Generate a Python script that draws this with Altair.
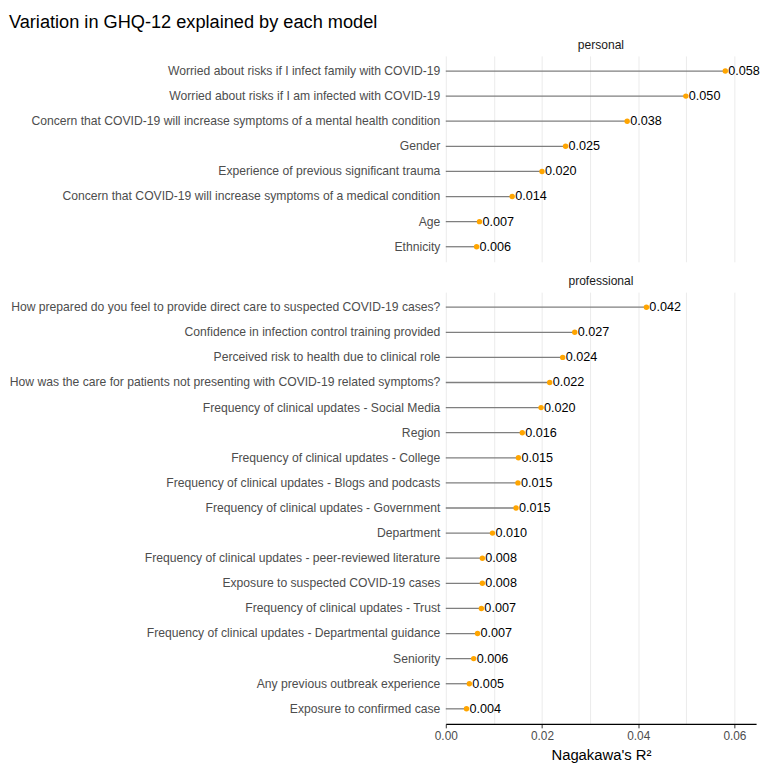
import altair as alt
import pandas as pd

personal_items = [
    "Worried about risks if I infect family with COVID-19",
    "Worried about risks if I am infected with COVID-19",
    "Concern that COVID-19 will increase symptoms of a mental health condition",
    "Gender",
    "Experience of previous significant trauma",
    "Concern that COVID-19 will increase symptoms of a medical condition",
    "Age",
    "Ethnicity",
]
personal_values = [0.0581, 0.0499, 0.0377, 0.0249, 0.0200, 0.0138, 0.0070, 0.0064]

professional_items = [
    "How prepared do you feel to provide direct care to suspected COVID-19 cases?",
    "Confidence in infection control training provided",
    "Perceived risk to health due to clinical role",
    "How was the care for patients not presenting with COVID-19 related symptoms?",
    "Frequency of clinical updates - Social Media",
    "Region",
    "Frequency of clinical updates - College",
    "Frequency of clinical updates - Blogs and podcasts",
    "Frequency of clinical updates - Government",
    "Department",
    "Frequency of clinical updates - peer-reviewed literature",
    "Exposure to suspected COVID-19 cases",
    "Frequency of clinical updates - Trust",
    "Frequency of clinical updates - Departmental guidance",
    "Seniority",
    "Any previous outbreak experience",
    "Exposure to confirmed case",
]
professional_values = [0.0417, 0.0268, 0.0243, 0.0216, 0.0198, 0.0159, 0.0151, 0.0150,
                       0.0146, 0.0097, 0.0076, 0.0076, 0.0074, 0.0066, 0.0058, 0.0049, 0.0043]

grid_values = [0.0, 0.01, 0.02, 0.03, 0.04, 0.05, 0.06]
x_domain = [0, 0.0645]
FONT = "Liberation Sans"
STEP = 25.4
WIDTH = 314


def panel(items, values, name, bottom):
    df = pd.DataFrame({"item": items, "value": values})
    if bottom:
        xaxis = alt.Axis(
            values=grid_values,
            labelExpr="round(datum.value*100) % 2 == 0 ? format(datum.value, '.2f') : ''",
            tickOpacity={"condition": {"test": "round(datum.value*100) % 2 == 1", "value": 0}, "value": 1},
            title="Nagakawa's R²",
            titleFontSize=15,
            titleFontWeight="normal",
            titleColor="#000000",
            titleFont=FONT,
            titlePadding=6,
            labelFont=FONT,
            labelFontSize=12,
            labelColor="#4d4d4d",
            labelFlush=False,
            domain=True,
            domainColor="#000000",
            domainWidth=1.2,
            tickColor="#333333",
            tickSize=4,
            grid=True,
            gridColor="#ebebeb",
            labelPadding=3,
        )
    else:
        xaxis = alt.Axis(
            values=grid_values, labels=False, ticks=False, domain=False, title=None,
            grid=True, gridColor="#ebebeb",
        )
    x = alt.X("value:Q", scale=alt.Scale(domain=x_domain, nice=False, zero=True), axis=xaxis)
    y = alt.Y(
        "item:N", sort=items, title=None,
        scale=alt.Scale(paddingInner=0, paddingOuter=0.1),
        axis=alt.Axis(labelColor="#4d4d4d", labelFont=FONT, labelFontSize=12.3,
                      domain=False, ticks=False, grid=False, labelPadding=6, labelLimit=1000),
    )
    base = alt.Chart(df)
    seg = base.mark_rule(color="#7f7f7f", strokeWidth=1.3).encode(x=x, x2=alt.datum(0), y=y)
    pts = base.mark_circle(color="#FFA500", size=30, opacity=1).encode(x=x, y=y)
    txt = base.mark_text(align="left", baseline="middle", dx=3, fontSize=12.8, font=FONT,
                         color="#000000").encode(x=x, y=y, text=alt.Text("value:Q", format=".3f"))
    return alt.layer(seg, pts, txt).properties(
        width=WIDTH,
        height=alt.Step(STEP),
        title=alt.TitleParams(text=name, anchor="middle", fontSize=12.2, font=FONT,
                              fontWeight="normal", color="#1a1a1a", offset=5),
    )


chart = alt.vconcat(
    panel(personal_items, personal_values, "personal", False),
    panel(professional_items, professional_values, "professional", True),
    spacing=12,
).properties(
    title=alt.TitleParams(text="Variation in GHQ-12 explained by each model", anchor="start",
                          fontSize=18.4, font=FONT, fontWeight="normal", color="#000000",
                          frame="bounds", offset=8),
    padding={"left": 0, "top": 0, "right": 4, "bottom": 2},
).configure_view(strokeWidth=0).configure_concat(spacing=12)

chart.save("out.html", embed_options={"renderer": "svg", "actions": False})
